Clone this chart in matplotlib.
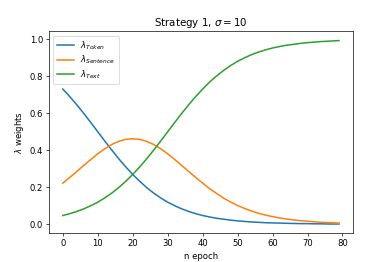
import matplotlib
matplotlib.use("Agg")
import matplotlib.pyplot as plt

# values (every 2 epochs, plus the last epoch)
epochs = [0, 2, 4, 6, 8, 10, 12, 14, 16, 18, 20, 22, 24, 26, 28, 30, 32, 34, 36, 38, 40,
          42, 44, 46, 48, 50, 52, 54, 56, 58, 60, 62, 64, 66, 68, 70, 72, 74, 76, 78, 79]
lam_token = [0.731, 0.690, 0.646, 0.599, 0.550, 0.500, 0.450, 0.401, 0.354, 0.310, 0.269,
             0.232, 0.198, 0.168, 0.142, 0.119, 0.100, 0.083, 0.069, 0.057, 0.047,
             0.039, 0.032, 0.027, 0.022, 0.018, 0.015, 0.012, 0.010, 0.008, 0.007,
             0.006, 0.005, 0.004, 0.003, 0.003, 0.002, 0.002, 0.001, 0.001, 0.001]
lam_sentence = [0.222, 0.253, 0.285, 0.318, 0.350, 0.381, 0.408, 0.431, 0.448, 0.459, 0.462,
                0.459, 0.448, 0.431, 0.408, 0.381, 0.350, 0.318, 0.285, 0.253, 0.222,
                0.192, 0.166, 0.141, 0.120, 0.101, 0.085, 0.071, 0.059, 0.049, 0.041,
                0.034, 0.028, 0.023, 0.019, 0.016, 0.013, 0.010, 0.009, 0.007, 0.006]
lam_text = [0.047, 0.057, 0.069, 0.083, 0.100, 0.119, 0.142, 0.168, 0.198, 0.232, 0.269,
            0.310, 0.354, 0.401, 0.450, 0.500, 0.550, 0.599, 0.646, 0.690, 0.731,
            0.769, 0.802, 0.832, 0.858, 0.881, 0.900, 0.917, 0.931, 0.943, 0.953,
            0.961, 0.968, 0.973, 0.978, 0.982, 0.985, 0.988, 0.990, 0.992, 0.993]

labels = [r"$\lambda_{Token}$", r"$\lambda_{Sentence}$", r"$\lambda_{Text}$"]

dpi = 61.25
fig, ax = plt.subplots(figsize=(392 / dpi, 262 / dpi), dpi=dpi)

for y, lab in zip((lam_token, lam_sentence, lam_text), labels):
    ax.plot(epochs, y, label=lab, lw=1.8)

ax.set_title(r"Strategy 1, $\sigma=10$")
ax.set_xlabel("n epoch")
ax.set_ylabel(r"$\lambda$ weights")
ax.set_xticks(range(0, 81, 10))
ax.set_yticks([0.0, 0.2, 0.4, 0.6, 0.8, 1.0])
ax.legend(loc="upper left", labelspacing=0.25)

fig.savefig("out.png", dpi=dpi)
